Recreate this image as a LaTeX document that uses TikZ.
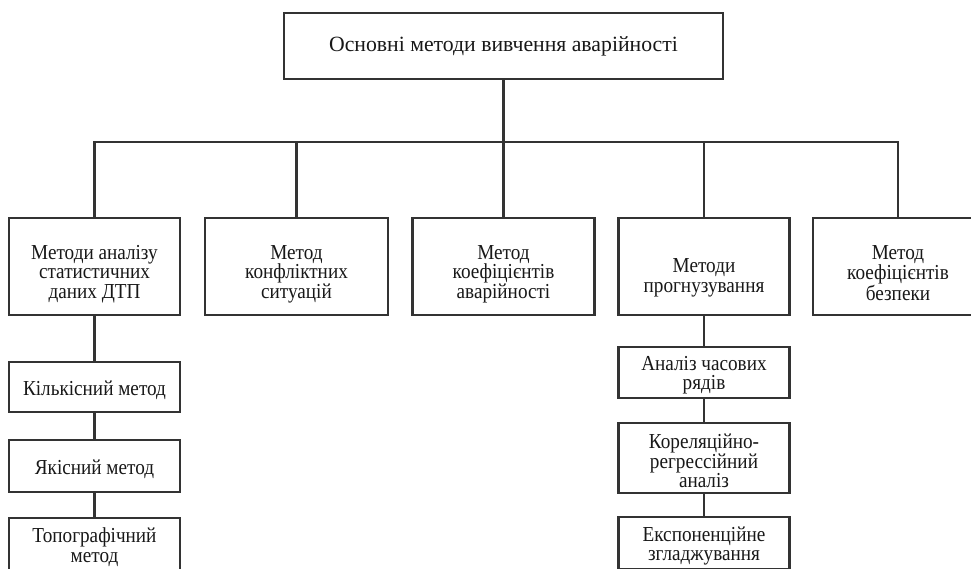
\documentclass[tikz,border=0pt]{standalone}
\usepackage{fontspec}
\setmainfont{Liberation Serif}
\newfontfamily\boxfont[FakeStretch=0.9]{Liberation Serif}

\definecolor{linegray}{RGB}{51,51,51}
\definecolor{textgray}{RGB}{24,24,24}

\tikzset{every picture/.style={line width=0.75pt}}
\tikzset{
  box/.style 2 args={draw=linegray, line width=1.6pt, fill=white, align=center,
    inner sep=0pt, text=textgray, font=\boxfont\fontsize{16}{14.6}\selectfont,
    minimum width=#1*0.75pt, minimum height=#2*0.75pt},
  lowtext/.style={execute at begin node={\rule{0pt}{#1}}},
  link/.style={draw=linegray, line width=1.6pt},
}

\begin{document}
\begin{tikzpicture}[x=0.75pt,y=0.75pt,yscale=-1,xscale=1]
\useasboundingbox (0,0) rectangle (971,568);

% Top box
\node [box={439}{66}, font=\rmfamily\fontsize{16.3}{18}\selectfont] (main) at (503.5,46) {Основні методи вивчення аварійності};
\coordinate (bus) at (503.5,142);

% Second row
\node [box={171}{97}, lowtext=50.7pt] (stat) at (94.5,266.5) {Методи аналізу\\статистичних\\даних ДТП};
\node [box={183}{97}, lowtext=50.7pt] (conf) at (296.5,266.5) {Метод\\конфліктних\\ситуацій};
\node [box={182}{97}, lowtext=50.7pt] (acc) at (503.5,266.5) {Метод\\коефіцієнтів\\аварійності};
\node [box={171}{97}, lowtext=42.1pt] (prog) at (704,266.5) {Методи\\прогнузування};
\node [box={170}{97}, lowtext=50.7pt] (safe) at (898,266.5) {Метод\\коефіцієнтів\\безпеки};

% Left column
\node [box={171}{50}, lowtext=15.3pt] (quant) at (94.5,387) {Кількісний метод};
\node [box={171}{52}, lowtext=15.3pt] (qual) at (94.5,466) {Якісний метод};
\node [box={171}{52}, lowtext=30.1pt] (topo) at (94.5,544) {Топографічний\\метод};

% Right column
\node [box={171}{51}, lowtext=29.6pt] (series) at (704,372.5) {Аналіз часових\\рядів};
\node [box={171}{70}, lowtext=44.7pt] (corr) at (704,458) {Кореляційно-\\регрессійний\\аналіз};
\node [box={171}{52}, lowtext=30.1pt] (expo) at (704,543) {Експоненційне\\згладжування};

% Connectors
\draw [link] (main.south) -- (bus);
\draw [link] (stat.north) |- (bus) -| (safe.north);
\draw [link] (conf.north) -- (conf.north |- bus);
\draw [link] (acc.north) -- (bus);
\draw [link] (prog.north) -- (prog.north |- bus);
\draw [link] (stat) -- (quant) -- (qual) -- (topo);
\draw [link] (prog) -- (series) -- (corr) -- (expo);
\end{tikzpicture}
\end{document}
